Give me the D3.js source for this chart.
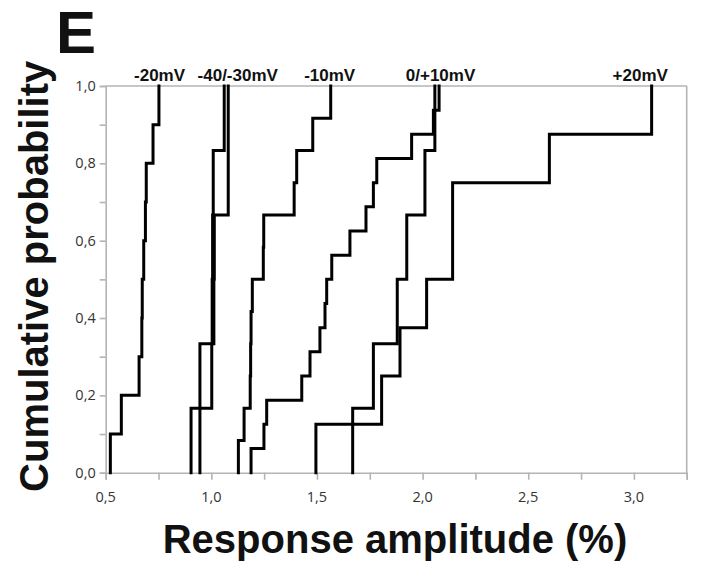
<!DOCTYPE html>
<html>
<head>
<meta charset="utf-8">
<script src="https://cdn.jsdelivr.net/npm/d3@7/dist/d3.min.js"></script>
<style>
  html, body { margin: 0; padding: 0; background: #fff; }
  svg { display: block; }
</style>
</head>
<body>
<svg id="chart" width="707" height="564"></svg>
<script>
// Response amplitudes (%) per recording, one array per holding potential
const ampMinus20 = [0.522, 0.574, 0.658, 0.671, 0.673, 0.680, 0.688, 0.692, 0.724, 0.752];
const ampMinus40 = [0.904, 1.002, 1.004, 1.006, 1.009, 1.061];
const ampMinus30 = [0.946, 0.946, 1.012, 1.014, 1.080, 1.080];
const ampMinus10 = [1.128, 1.155, 1.184, 1.186, 1.188, 1.194, 1.246, 1.248, 1.392, 1.404, 1.480, 1.565];
const ampZero = [1.188, 1.249, 1.262, 1.428, 1.467, 1.514, 1.538, 1.546, 1.570, 1.656,
                 1.732, 1.767, 1.783, 1.948, 2.051, 2.078];
const ampPlus10 = [1.669, 1.767, 1.880, 1.925, 2.011, 2.058];
const ampPlus20 = [1.495, 1.806, 1.893, 2.019, 2.142, 2.142, 2.600, 3.084];

const seriesList = [ampMinus20, ampMinus40, ampMinus30, ampMinus10, ampZero, ampPlus10, ampPlus20];

// Potential labels and the amplitude each one sits above
const potentialLabels = ["-20mV", "-40/-30mV", "-10mV", "0/+10mV", "+20mV"];
const labelAmplitude = [0.755, 1.125, 1.56, 2.085, 3.03];

const xTickValues = [0.5, 1.0, 1.5, 2.0, 2.5, 3.0];
const yTickValues = [0, 0.2, 0.4, 0.6, 0.8, 1.0];
const xDomain = [0.5, 3.25];
const yDomain = [0, 1];

const svg = d3.select("#chart");
const plotL = 105.7, plotR = 686.7, plotT = 86, plotB = 472.7;

const x = d3.scaleLinear().domain(xDomain).range([plotL, plotR]);
const y = d3.scaleLinear().domain(yDomain).range([plotB, plotT]);

const comma = v => d3.format(".1f")(v).replace(".", ",");
const axisColor = "#b4b4b4";
const tickFont = "'Open Sans', 'DejaVu Sans', sans-serif";

// Minor ticks
const xMinor = d3.range(0.5, 3.2501, 0.25);
const yMinor = d3.range(0, 1.0001, 0.1);

const gx = svg.append("g").attr("transform", `translate(0,${plotB})`)
  .call(d3.axisBottom(x).tickValues(xMinor).tickSize(7).tickFormat(""));
const gy = svg.append("g").attr("transform", `translate(${plotL},0)`)
  .call(d3.axisLeft(y).tickValues(yMinor).tickSize(6).tickFormat(""));
[gx, gy].forEach(g => {
  g.selectAll("path").attr("stroke", axisColor).attr("stroke-width", 1.6);
  g.selectAll("line").attr("stroke", axisColor).attr("stroke-width", 1.6);
});

// Frame top and right
svg.append("line").attr("x1", plotL).attr("x2", plotR).attr("y1", plotT).attr("y2", plotT)
  .attr("stroke", axisColor).attr("stroke-width", 1.6);
svg.append("line").attr("x1", plotR).attr("x2", plotR).attr("y1", plotT).attr("y2", plotB)
  .attr("stroke", axisColor).attr("stroke-width", 1.6);

// Tick labels
svg.append("g").selectAll("text").data(xTickValues).join("text")
  .attr("x", d => x(d)).attr("y", plotB + 29)
  .attr("text-anchor", "middle")
  .attr("font-family", tickFont).attr("font-size", 14.5).attr("fill", "#333")
  .text(comma);
svg.append("g").selectAll("text").data(yTickValues).join("text")
  .attr("x", plotL - 10).attr("y", d => y(d) + 5)
  .attr("text-anchor", "end")
  .attr("font-family", tickFont).attr("font-size", 14.5).attr("fill", "#333")
  .text(comma);

// Cumulative distribution step curves
const line = d3.line().x(d => x(d[0])).y(d => y(d[1])).curve(d3.curveStepAfter);
seriesList.forEach(vals => {
  const n = vals.length;
  const pts = [[vals[0], 0]].concat(vals.map((v, i) => [v, (i + 1) / n]));
  svg.append("path").datum(pts)
    .attr("d", line)
    .attr("fill", "none").attr("stroke", "#000").attr("stroke-width", 3)
    .attr("stroke-linejoin", "miter").attr("stroke-linecap", "square");
});

// Potential labels
const boldFont = "'Liberation Sans', Arial, Helvetica, sans-serif";
svg.append("g").selectAll("text").data(potentialLabels).join("text")
  .attr("x", (d, i) => x(labelAmplitude[i])).attr("y", plotT - 5)
  .attr("text-anchor", "middle")
  .attr("font-family", boldFont).attr("font-weight", "bold").attr("font-size", 17)
  .attr("fill", "#111").text(d => d);

// Panel letter
svg.append("text").attr("x", 56).attr("y", 53)
  .attr("font-family", boldFont).attr("font-weight", "bold").attr("font-size", 60)
  .attr("fill", "#111").text("E");

// Axis titles
svg.append("text")
  .attr("transform", `translate(48,${(plotT + plotB) / 2 - 3}) rotate(-90)`)
  .attr("text-anchor", "middle")
  .attr("font-family", boldFont).attr("font-weight", "bold").attr("font-size", 40)
  .attr("fill", "#111").text("Cumulative probability");
svg.append("text")
  .attr("x", 395).attr("y", 553)
  .attr("text-anchor", "middle")
  .attr("font-family", boldFont).attr("font-weight", "bold").attr("font-size", 40)
  .attr("fill", "#111").text("Response amplitude (%)");
</script>
</body>
</html>
